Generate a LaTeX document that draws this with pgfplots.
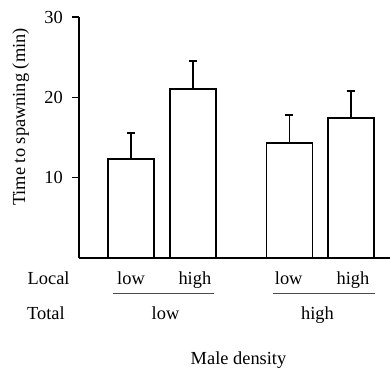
\documentclass[border=0pt]{standalone}
\usepackage{fontspec}
\setmainfont{Liberation Serif}
\usepackage{pgfplots}
\pgfplotsset{compat=1.18}
\begin{document}
\fontsize{18.4}{22}\selectfont
\begin{tikzpicture}[font=\fontsize{18.4}{22}\selectfont]
\useasboundingbox (0,0) rectangle (390pt,371pt);
\begin{axis}[
  at={(79pt,113pt)}, anchor=south west,
  x=62pt, y=8.03pt,
  xmin=0.161, xmax=5.177, ymin=0, ymax=30,
  axis x line=bottom, axis y line=left,
  axis line style={-, line width=1.6pt, black},
  ytick={10,20,30}, xtick=\empty,
  tick align=outside, major tick length=7pt,
  tick style={line width=1.6pt, black},
  /pgf/number format/assume math mode=true,
  yticklabel style={anchor=east, inner sep=0pt, xshift=-9pt, font=\fontsize{18.4}{22}\selectfont},
  clip=false,
  ybar, bar width=46pt,
]
\addplot[fill=white, draw=black, line width=1.6pt,
  error bars/.cd, y dir=plus, y explicit,
  error bar style={line width=1.6pt, black},
  error mark options={rotate=90, mark size=4pt, line width=1.6pt, black}]
coordinates {(1,12.33) +- (0,3.24) (2,21.05) +- (0,3.48) (3.556,14.32) +- (0,3.49) (4.548,17.43) +- (0,3.37)};
\node[anchor=base, inner sep=0pt, yshift=-27pt] at (axis cs:1,0) {low};
\node[anchor=base, inner sep=0pt, yshift=-27pt] at (axis cs:2.03,0) {high};
\node[anchor=base, inner sep=0pt, yshift=-27pt] at (axis cs:3.543,0) {low};
\node[anchor=base, inner sep=0pt, yshift=-27pt] at (axis cs:4.58,0) {high};
\end{axis}
\node[anchor=base west, inner sep=0pt] at (27.5pt,86pt) {Local};
\node[anchor=base west, inner sep=0pt] at (27pt,51pt) {Total};
\draw[line width=1pt, black!70] (113pt,77.3pt) -- (214pt,77.3pt);
\draw[line width=1pt, black!70] (273pt,77.3pt) -- (375pt,77.3pt);
\node[anchor=base, inner sep=0pt] at (165.5pt,51pt) {low};
\node[anchor=base, inner sep=0pt] at (317.5pt,51pt) {high};
\node[anchor=base, inner sep=0pt] at (238.5pt,6pt) {Male density};
\node[anchor=base, inner sep=0pt, rotate=90] at (25pt,254pt) {Time to spawning (min)};
\end{tikzpicture}
\end{document}
